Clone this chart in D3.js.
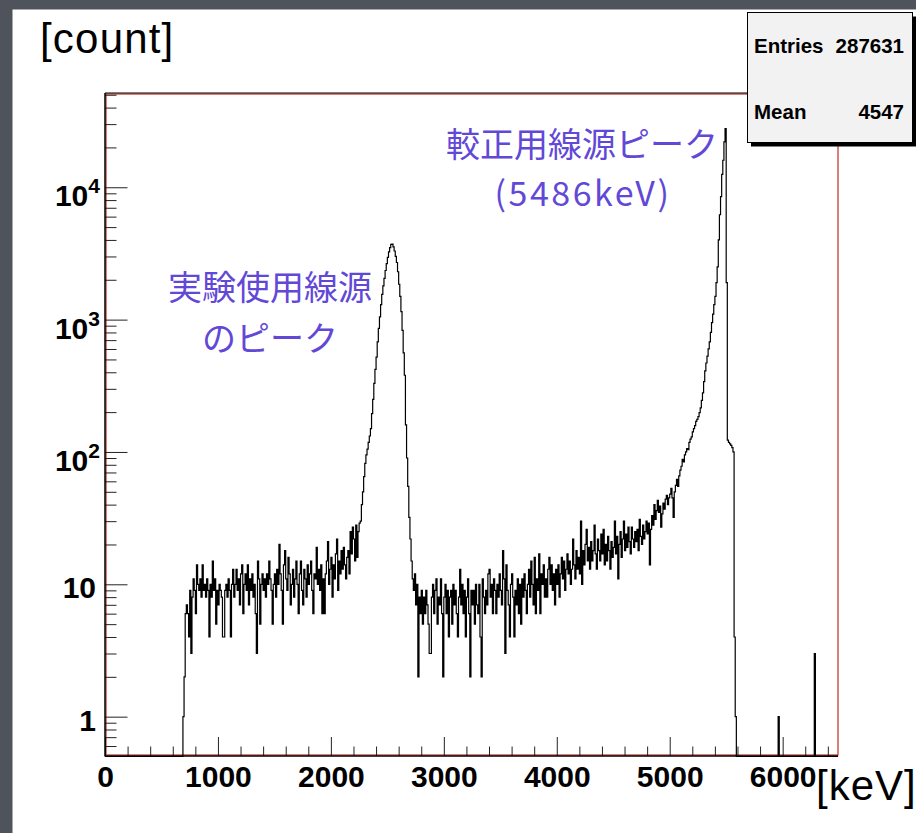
<!DOCTYPE html>
<html>
<head>
<meta charset="utf-8">
<script src="https://d3js.org/d3.v7.min.js"></script>
<style>
  body { margin: 0; background: #4f545c; }
  svg { display: block; }
  .lbl { font-family: "Liberation Sans", Arial, Helvetica, sans-serif; font-weight: bold; fill: #000; }
  .unit { font-family: "Liberation Sans", Arial, Helvetica, sans-serif; fill: #000; }
  .note { font-family: "Noto Sans CJK JP", sans-serif; fill: #6248d6; }
</style>
</head>
<body>
<svg id="chart" width="916" height="833"></svg>
<script>
// histogram: 10 keV bins, first bin starts at 680 keV
const binWidth = 10;
const firstBin = 680;
const counts = [
  0, 1, 2, 6, 7, 6, 4, 9, 3, 8, 11, 9,          // 680-790
  6, 14, 10, 9, 11, 8, 14, 9, 10, 8,            // 800
  11, 9, 4, 10, 8, 15, 9, 11, 5, 9,             // 900
  7, 10, 9, 8, 4, 4, 9, 10, 8, 11,              // 1000
  9, 4, 10, 13, 8, 10, 13, 9, 11, 7,            // 1100
  12, 14, 6, 10, 12, 9, 14, 7, 11, 9,           // 1200
  12, 8, 10, 6, 3, 15, 11, 5, 10, 12,           // 1300
  9, 11, 8, 12, 10, 15, 11, 9, 5, 10,           // 1400
  12, 8, 13, 10, 20, 12, 9, 5, 14, 18,          // 1500
  11, 9, 16, 12, 7, 10, 13, 8, 11, 15,          // 1600
  10, 6, 12, 15, 9, 7, 13, 11, 8, 14,           // 1700
  10, 12, 15, 9, 6, 12, 11, 19, 10, 13,         // 1800
  9, 14, 6, 11, 6, 12, 15, 21, 10, 13,          // 1900
  16, 8, 14, 11, 17, 22, 9, 15, 12, 18,         // 2000
  13, 19, 14, 11, 16, 18, 12, 25, 17, 27,       // 2100
  22, 15, 28, 16, 25, 29, 30, 40, 50, 65,       // 2200
  82, 95, 105, 118, 132, 150, 195, 250, 330, 420,            // 2300
  520, 680, 860, 1050, 1300, 1550, 1800, 2050, 2350, 2650,   // 2400
  2950, 3250, 3500, 3700, 3720, 3550, 3300, 3000, 2700, 2300, // 2500
  1850, 1500, 1150, 830, 560, 380, 160, 90, 55, 32,          // 2600
  22, 15, 11, 9, 12, 7, 10, 2, 8, 6,            // 2700
  9, 5, 8, 6, 9, 7, 5, 3, 3, 8,                 // 2800
  10, 6, 9, 11, 5, 8, 7, 11, 6, 2,              // 2900
  8, 10, 6, 9, 4, 8, 9, 5, 10, 7,               // 3000
  9, 6, 4, 8, 13, 7, 10, 6, 9, 4,               // 3100
  8, 11, 6, 2, 9, 7, 9, 5, 10, 7,               // 3200
  6, 10, 4, 2, 11, 8, 6, 9, 7, 12,              // 3300
  13, 8, 10, 6, 11, 9, 6, 10, 8, 12,            // 3400
  9, 7, 18, 11, 3, 14, 9, 7, 4, 10,             // 3500
  12, 8, 4, 9, 7, 11, 6, 10, 5, 11,             // 3600
  8, 12, 9, 6, 10, 13, 8, 15, 10, 7,            // 3700
  16, 6, 11, 9, 17, 6, 12, 10, 14, 8,           // 3800
  11, 8, 13, 16, 10, 14, 9, 12, 7, 13,          // 3900
  10, 14, 8, 12, 16, 11, 15, 9, 13, 17,         // 4000
  12, 15, 10, 13, 22, 14, 11, 18, 13, 16,       // 4100
  12, 30, 10, 18, 14, 20, 26, 15, 19, 13,       // 4200
  21, 15, 18, 28, 17, 13, 22, 18, 15, 24,       // 4300
  17, 26, 14, 20, 15, 23, 18, 13, 21, 16,       // 4400
  19, 30, 17, 23, 11, 20, 25, 16, 22, 30,       // 4500
  18, 24, 19, 27, 21, 17, 27, 22, 19, 25,       // 4600
  21, 26, 18, 31, 23, 20, 28, 22, 25, 30,       // 4700
  24, 29, 14, 26, 33, 28, 40, 31, 36, 43,       // 4800
  35, 39, 27, 34, 41, 37, 44, 47, 40, 45,       // 4900
  48, 53, 45, 32, 50, 56, 62, 55, 66, 73,       // 5000
  78, 88, 84, 95, 100, 106, 104, 118, 125, 130, // 5100
  142, 150, 158, 170, 176, 185, 198, 215, 245, 280,            // 5200
  340, 410, 470, 530, 600, 680, 800, 950, 1100, 1300,          // 5300
  1500, 1900, 2500, 4000, 6200, 8500, 12500, 16000, 22000, 27800, // 5400
  1900, 123, 118, 115, 112, 108, 100, 4, 1, 0   // 5500
];
// isolated counts above the peak
const extraBins = [5960, 6280];
const extraCounts = [1, 3];

const xMax = 6490;
const xMajor = [0, 1000, 2000, 3000, 4000, 5000, 6000];
const yMajor = [1, 10, 100, 1000, 10000];
const statNames = ["Entries", "Mean"];
const statValues = ["287631", "4547"];

const svg = d3.select("#chart");
const W = 916, H = 833;

// slide background + white page
svg.append("rect").attr("width", W).attr("height", H).attr("fill", "#4f545c");
svg.append("rect").attr("x", 12.5).attr("y", 9.5).attr("width", W - 12.5).attr("height", H - 9.5).attr("fill", "#fff");

const x = d3.scaleLinear().domain([0, xMax]).range([105, 838]);
const y = d3.scaleLog().domain([0.5, 52000]).range([756.5, 92.5]);

// build full bin list
const bins = [];
for (let lo = 0; lo < xMax; lo += binWidth) {
  let v = 0;
  const i = (lo - firstBin) / binWidth;
  if (i >= 0 && i < counts.length) v = counts[i];
  const j = extraBins.indexOf(lo);
  if (j >= 0) v = extraCounts[j];
  bins.push({ lo: lo, v: v });
}
bins.push({ lo: xMax, v: bins[bins.length - 1].v });

// frame
svg.append("rect").attr("x", 106).attr("y", 94).attr("width", 732).attr("height", 661)
  .attr("fill", "none").attr("stroke", "#c52a1e").attr("stroke-width", 1.2);

// histogram
const line = d3.line()
  .x(d => x(d.lo))
  .y(d => y(Math.max(d.v, 0.5)))
  .curve(d3.curveStepAfter);
svg.append("path").datum(bins).attr("d", line)
  .attr("fill", "none").attr("stroke", "#000").attr("stroke-width", 1.2);

// x ticks (inside, pointing up)
const xMinor = d3.range(0, xMax, 200).filter(v => v % 1000 !== 0);
const gx1 = svg.append("g").attr("transform", "translate(0,756)")
  .call(d3.axisTop(x).tickValues(xMajor).tickSize(19).tickFormat(""));
const gx2 = svg.append("g").attr("transform", "translate(0,756)")
  .call(d3.axisTop(x).tickValues(xMinor).tickSize(9.5).tickFormat(""));
[gx1, gx2].forEach(g => { g.select(".domain").remove(); g.selectAll("line").attr("stroke", "#222"); });

svg.append("g").attr("transform", "translate(0,756)")
  .call(d3.axisBottom(x).tickValues(xMajor).tickSize(0).tickPadding(0).tickFormat(d3.format("d")))
  .call(g => g.select(".domain").remove())
  .selectAll("text").attr("class", "lbl").attr("font-size", 30).attr("dy", null).attr("y", 31);

// y ticks (inside, pointing right)
const yMinor = [];
[0.1, 1, 10, 100, 1000, 10000].forEach(d => {
  for (let k = 2; k <= 9; k++) { const v = k * d; if (v > 0.5 && v < 52000) yMinor.push(v); }
});
const gy1 = svg.append("g").attr("transform", "translate(105,0)")
  .call(d3.axisRight(y).tickValues(yMajor).tickSize(22.5).tickFormat(""));
const gy2 = svg.append("g").attr("transform", "translate(105,0)")
  .call(d3.axisRight(y).tickValues(yMinor).tickSize(11.5).tickFormat(""));
[gy1, gy2].forEach(g => { g.select(".domain").remove(); g.selectAll("line").attr("stroke", "#222"); });

// y labels, powers written with superscripts
yMajor.forEach(v => {
  const p = Math.round(Math.log10(v));
  if (p < 2) {
    svg.append("text").attr("class", "lbl").attr("font-size", 30)
      .attr("x", 96).attr("y", y(v) + 14).attr("text-anchor", "end").text(String(v));
  } else {
    const t = svg.append("text").attr("class", "lbl").attr("font-size", 30)
      .attr("x", 100).attr("y", y(v) + 19).attr("text-anchor", "end");
    t.append("tspan").text("10");
    t.append("tspan").attr("font-size", 21).attr("dy", -13).text(String(p));
  }
});

// black axis lines
svg.append("line").attr("x1", 105).attr("x2", 105).attr("y1", 93).attr("y2", 756.5).attr("stroke", "#000").attr("stroke-width", 1.5);
svg.append("line").attr("x1", 105).attr("x2", 838).attr("y1", 756).attr("y2", 756).attr("stroke", "#000").attr("stroke-width", 1.5);
svg.append("line").attr("x1", 105).attr("x2", 838).attr("y1", 93).attr("y2", 93).attr("stroke", "#000").attr("stroke-width", 1.2);

// units
svg.append("text").attr("class", "unit").attr("font-size", 42).attr("letter-spacing", 1.2)
  .attr("x", 40).attr("y", 53).text("[count]");
svg.append("text").attr("class", "unit").attr("font-size", 42).attr("letter-spacing", 1)
  .attr("x", 816).attr("y", 800).text("[keV]");

// stats box
svg.append("rect").attr("x", 751).attr("y", 16.5).attr("width", 165).attr("height", 130).attr("fill", "#000");
svg.append("rect").attr("x", 747.5).attr("y", 12.5).attr("width", 165).attr("height", 130)
  .attr("fill", "#f2f2f2").attr("stroke", "#000").attr("stroke-width", 1);
statNames.forEach((n, i) => {
  const by = 53 + i * 66;
  svg.append("text").attr("class", "lbl").attr("font-size", 20.5).attr("x", 754).attr("y", by).text(n);
  svg.append("text").attr("class", "lbl").attr("font-size", 20.5).attr("x", 904).attr("y", by)
    .attr("text-anchor", "end").text(statValues[i]);
});

// annotations
const notes = [
  { t: "較正用線源ピーク", cx: 582, by: 157, ls: 0 },
  { t: "(5486keV)", cx: 583, by: 206, ls: 2.5 },
  { t: "実験使用線源", cx: 270, by: 300, ls: 0 },
  { t: "のピーク", cx: 270, by: 351, ls: 0 }
];
notes.forEach(n => {
  svg.append("text").attr("class", "note").attr("font-size", 34).attr("letter-spacing", n.ls)
    .attr("x", n.cx).attr("y", n.by).attr("text-anchor", "middle").text(n.t);
});
</script>
</body>
</html>
